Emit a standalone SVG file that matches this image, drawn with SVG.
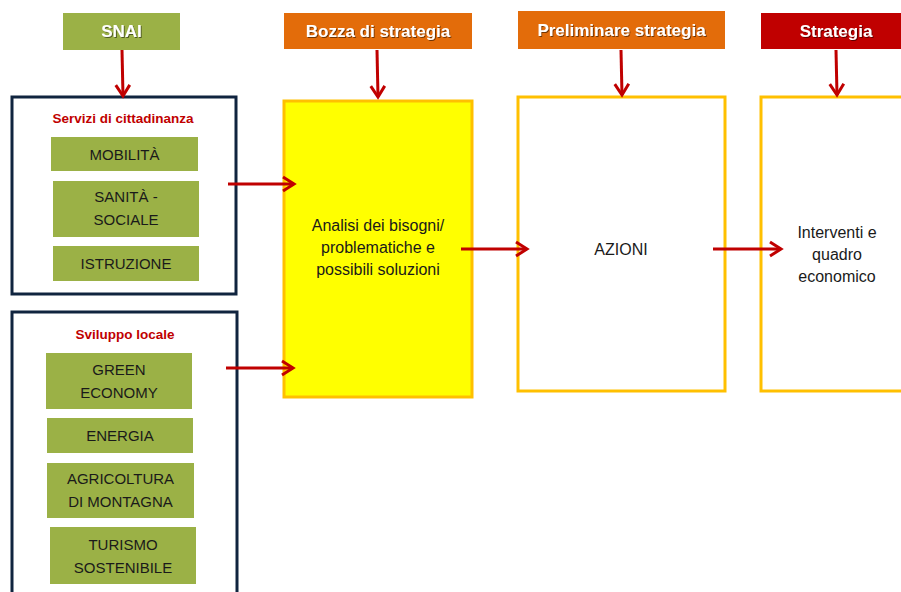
<svg xmlns="http://www.w3.org/2000/svg" width="901" height="592" viewBox="0 0 901 592">
<style>
text{font-family:"Liberation Sans",Arial,sans-serif;text-anchor:middle}
.hdr{font-weight:bold;font-size:17px;fill:#fff;filter:url(#sh)}
.item{fill:#9BB146}
.itxt{font-size:15px;fill:#1a1a1a}
.ttl{font-weight:bold;font-size:13.5px;fill:#C00000}
.grp{fill:#fff;stroke:#10243F;stroke-width:3}
.stage{stroke:#FFC000;stroke-width:3}
.btxt{font-size:16px;fill:#1a1a1a}
.conn{stroke:#C00000;stroke-width:3;fill:none;marker-end:url(#ah)}
</style>
<defs>
<filter id="sh" x="-10%" y="-30%" width="120%" height="160%">
<feDropShadow dx="1" dy="1" stdDeviation="0.6" flood-color="#000" flood-opacity="0.5"/>
</filter>
<marker id="ah" markerUnits="userSpaceOnUse" markerWidth="18" markerHeight="18" refX="14" refY="9" orient="auto">
<path d="M3,2 L14,9 L3,16" fill="none" stroke="#C00000" stroke-width="3"/>
</marker>
</defs>

<g id="snai"><rect x="63" y="13" width="117" height="37" fill="#9BB146"/><text class="hdr" x="121.5" y="37">SNAI</text></g>
<g id="bozza"><rect x="284" y="13" width="188" height="36" fill="#E36C0A"/><text class="hdr" x="378" y="37">Bozza di strategia</text></g>
<g id="preliminare"><rect x="518" y="11" width="207" height="38" fill="#E36C0A"/><text class="hdr" x="621.5" y="36">Preliminare strategia</text></g>
<g id="strategia"><rect x="761" y="13" width="141" height="36" fill="#C00000"/><text class="hdr" x="836" y="37">Strategia</text></g>

<g id="servizi">
<rect class="grp" x="12" y="97" width="224" height="197"/>
<text class="ttl" x="123" y="123">Servizi di cittadinanza</text>
<rect class="item" x="51" y="137" width="147" height="34"/><text class="itxt" x="124.5" y="160">MOBILITÀ</text>
<rect class="item" x="53" y="181" width="146" height="56"/><text class="itxt" x="126" y="202">SANITÀ -</text><text class="itxt" x="126" y="225">SOCIALE</text>
<rect class="item" x="53" y="246" width="146" height="35"/><text class="itxt" x="126" y="269">ISTRUZIONE</text>
</g>

<g id="sviluppo">
<rect class="grp" x="12" y="312" width="225" height="290"/>
<text class="ttl" x="125" y="339">Sviluppo locale</text>
<rect class="item" x="46" y="353" width="146" height="56"/><text class="itxt" x="119" y="375">GREEN</text><text class="itxt" x="119" y="398">ECONOMY</text>
<rect class="item" x="47" y="418" width="146" height="35"/><text class="itxt" x="120" y="441">ENERGIA</text>
<rect class="item" x="47" y="463" width="147" height="55"/><text class="itxt" x="120.5" y="484">AGRICOLTURA</text><text class="itxt" x="120.5" y="507">DI MONTAGNA</text>
<rect class="item" x="50" y="527" width="146" height="57"/><text class="itxt" x="123" y="550">TURISMO</text><text class="itxt" x="123" y="573">SOSTENIBILE</text>
</g>

<g id="analisi">
<rect class="stage" x="284" y="101" width="188" height="296" fill="#FFFF00"/>
<text class="btxt" x="378" y="231">Analisi dei bisogni/</text>
<text class="btxt" x="378" y="253">problematiche e</text>
<text class="btxt" x="378" y="275">possibili soluzioni</text>
</g>
<g id="azioni">
<rect class="stage" x="518" y="97" width="207" height="294" fill="#fff"/>
<text class="btxt" x="621" y="255">AZIONI</text>
</g>
<g id="interventi">
<rect class="stage" x="761" y="97" width="145" height="294" fill="#fff"/>
<text class="btxt" x="837" y="238">Interventi e</text>
<text class="btxt" x="837" y="260">quadro</text>
<text class="btxt" x="837" y="282">economico</text>
</g>

<g id="connectors">
<line class="conn" x1="122" y1="50" x2="123" y2="96"/>
<line class="conn" x1="377" y1="50" x2="378" y2="97"/>
<line class="conn" x1="621" y1="50" x2="622" y2="95"/>
<line class="conn" x1="836" y1="50" x2="837" y2="95"/>
<line class="conn" x1="228" y1="184" x2="294" y2="184"/>
<line class="conn" x1="226" y1="368" x2="293" y2="368"/>
<line class="conn" x1="461" y1="249" x2="527" y2="249"/>
<line class="conn" x1="713" y1="249" x2="781" y2="249"/>
</g>
</svg>
